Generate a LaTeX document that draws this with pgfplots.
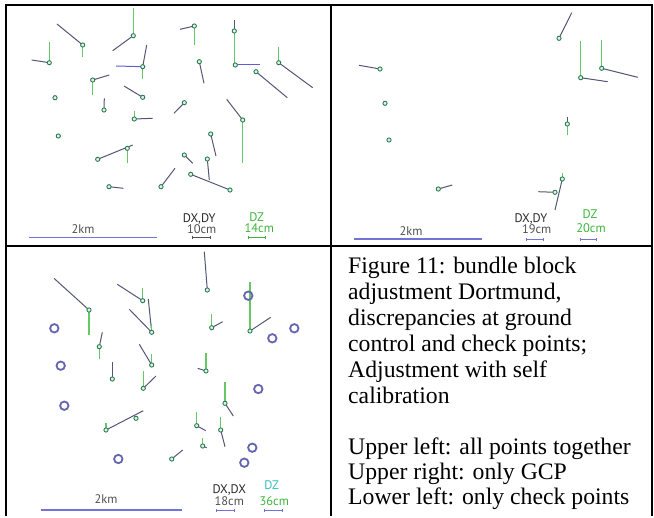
\documentclass[border=0pt]{standalone}
\usepackage{fontspec}
\setmainfont{Liberation Serif}
\newfontfamily\lab{PT Sans}
\usepackage{pgfplots}
\pgfplotsset{compat=1.18}
\definecolor{vec}{RGB}{85,85,120}
\definecolor{bvec}{RGB}{95,95,205}
\definecolor{gvec}{RGB}{100,200,100}
\definecolor{pt}{RGB}{45,125,85}
\definecolor{ptfill}{RGB}{225,242,230}
\definecolor{gcp}{RGB}{100,100,175}
\definecolor{sbar}{RGB}{115,115,215}
\definecolor{lbl}{RGB}{40,40,40}
\definecolor{lblg}{RGB}{80,80,80}
\definecolor{dzg}{RGB}{60,180,60}
\definecolor{dzc}{RGB}{50,190,190}
\begin{document}
\begin{tikzpicture}
\begin{axis}[
  scale only axis, width=654bp, height=516bp,
  xmin=0, xmax=654, ymin=0, ymax=516, y dir=reverse,
  hide axis, clip=false, enlargelimits=false]
\path (axis cs:0,0) rectangle (axis cs:654,516);
% ---------- Panel 1: all points ----------
\addplot[draw=vec, line width=1bp, quiver={u=\thisrow{u},v=\thisrow{v}}] table {
x y u v
82.7 45 -25.7 -21
133.3 35.7 -20.6 15
49.3 62.7 -17.6 -2.7
142.7 66.7 4 -21.7
92.7 80 16.6 -5
104 110 0.3 -11.7
142.7 97.3 -18.7 -11.3
134.3 119 18.4 -0.7
97.7 159.3 35 -14.3
109 186.7 14.3 1.6
194.3 26 -14.3 3.3
234.3 31 0 -11
199.3 61.7 4.7 21.6
278.7 62.7 34 25
256 71.7 31.3 26
184.3 102.7 -10.3 10.6
242.7 120 -16 -20.7
210.7 134 5.3 22
184.3 155 8.4 8.3
207.3 159 2 21
190.7 174.3 39.3 15.7
161 186.7 14 -18.4
};
\addplot[draw=bvec, line width=1bp, quiver={u=\thisrow{u},v=\thisrow{v}}] table {
x y u v
142.7 66.7 -26.7 -0.7
235.3 65 24.7 0
};
\addplot[draw=gvec, line width=1.1bp, quiver={u=\thisrow{u},v=\thisrow{v}}] table {
x y u v
82.7 45 0 11.7
133.3 35.7 0 -27.4
49.3 62.7 0 -21
142.7 66.7 0 12.6
92.7 80 0 15
134.3 119 0 -8
127.3 148.3 0 15
194.3 26 0 19
234.3 31 0 32
278.7 62.7 0 -16
242.7 120 0 42.7
};
\addplot[only marks, mark=*, mark size=2.1bp, mark options={draw=pt, fill=ptfill, line width=0.9bp}] table {
x y
82.7 45
133.3 35.7
49.3 62.7
142.7 66.7
92.7 80
55 97.7
104 110
142.7 97.3
134.3 119
58.3 136
97.7 159.3
127.3 148.3
109 186.7
194.3 26
234.3 31
235.3 65
199.3 61.7
278.7 62.7
256 71.7
184.3 102.7
242.7 120
210.7 134
184.3 155
207.3 159
190.7 174.3
230 190
161 186.7
};
% ---------- Panel 2: GCP only ----------
\addplot[draw=vec, line width=1bp, quiver={u=\thisrow{u},v=\thisrow{v}}] table {
x y u v
559 38.3 12.7 -25.6
380 69 -21 -3.7
580.7 77.7 27 4
601.7 68.3 36 9
567.3 124 0 -6.7
438.3 189 14 -4
562.3 179 -7.3 31
555 192.3 -16.7 -0.6
};
\addplot[draw=gvec, line width=1.1bp, quiver={u=\thisrow{u},v=\thisrow{v}}] table {
x y u v
580.7 77.7 0 -37
601.7 68.3 0 -28.3
567.3 124 0 11
562.3 179 0 -6.3
};
\addplot[only marks, mark=*, mark size=2.1bp, mark options={draw=pt, fill=ptfill, line width=0.9bp}] table {
x y
559 38.3
380 69
580.7 77.7
601.7 68.3
385 103.3
389 140
567.3 124
438.3 189
562.3 179
555 192.3
};
% ---------- Panel 3: check points only ----------
\addplot[draw=vec, line width=1bp, quiver={u=\thisrow{u},v=\thisrow{v}}] table {
x y u v
89 310 -35 -31.7
142.7 300.7 -25.4 -16.4
151.7 332.3 -22.4 -23
151.7 332.3 -3.4 -33.3
207.3 290 -3 -38.3
211.7 327.7 11 -6
250 331 20.7 -13.7
99.3 346.7 3 -14.4
151.7 365 -12.4 -20.7
112.3 379 0 -16.7
143.3 388.3 12.7 -12.3
206 371 -8.3 -2.7
225 403.3 8.3 12.7
106 430 37.3 -19.3
196.7 425.7 9 5
220.7 430 4.3 16.7
202.7 446 4 1.7
171.7 459 11 -9
};
\addplot[draw=gvec, line width=1.1bp, quiver={u=\thisrow{u},v=\thisrow{v}}] table {
x y u v
89 310 0 25
142.7 300.7 0 -12.4
151.7 332.3 0 -8
211.7 327.7 0 -13.7
250 331 0 -49.3
99.3 346.7 0 12.6
151.7 365 0 -10.7
143.3 388.3 0 -17.3
206 371 0 -17.7
225 403.3 0 -21.6
106 430 0 -7.3
196.7 425.7 0 -14
220.7 430 0 -13.3
202.7 446 0 -8.3
};
\addplot[only marks, mark=*, mark size=2.1bp, mark options={draw=pt, fill=ptfill, line width=0.9bp}] table {
x y
89 310
142.7 300.7
151.7 332.3
207.3 290
211.7 327.7
250 331
99.3 346.7
151.7 365
112.3 379
143.3 388.3
206 371
225 403.3
136 418.3
106 430
196.7 425.7
220.7 430
202.7 446
171.7 459
};
\addplot[only marks, mark=o, mark size=4.2bp, mark options={draw=gcp, line width=1.8bp}] table {
x y
54.3 328.3
60.7 365.7
64.3 405.7
118.3 459
248.3 295.7
294.3 328.3
272.3 338.3
258.3 389
252.3 447.7
244.3 462.7
};
% ---------- scale bars and legends ----------
\draw[sbar, line width=1.4bp] (axis cs:29.3,237.3) -- (axis cs:156.7,237.3);
\draw[sbar, line width=1.4bp] (axis cs:354.3,239) -- (axis cs:481.7,239);
\draw[sbar, line width=1.4bp] (axis cs:40.7,510) -- (axis cs:181.7,510);
\draw[lblg, line width=0.7bp] (axis cs:192.7,235.8) -- (axis cs:192.7,238.8) (axis cs:192.7,237.3) -- (axis cs:210,237.3) (axis cs:210,235.8) -- (axis cs:210,238.8);
\draw[dzg, line width=0.7bp] (axis cs:248.3,236.2) -- (axis cs:248.3,239.2) (axis cs:248.3,237.7) -- (axis cs:265,237.7) (axis cs:265,236.2) -- (axis cs:265,239.2);
\draw[sbar, line width=0.7bp] (axis cs:526,237.8) -- (axis cs:526,240.8) (axis cs:526,239.3) -- (axis cs:543.3,239.3) (axis cs:543.3,237.8) -- (axis cs:543.3,240.8);
\draw[sbar, line width=0.7bp] (axis cs:580,237.8) -- (axis cs:580,240.8) (axis cs:580,239.3) -- (axis cs:596.7,239.3) (axis cs:596.7,237.8) -- (axis cs:596.7,240.8);
\draw[sbar, line width=0.7bp] (axis cs:216,509.2) -- (axis cs:216,512.2) (axis cs:216,510.7) -- (axis cs:234.3,510.7) (axis cs:234.3,509.2) -- (axis cs:234.3,512.2);
\draw[sbar, line width=0.7bp] (axis cs:264.3,509.2) -- (axis cs:264.3,512.2) (axis cs:264.3,510.7) -- (axis cs:282.7,510.7) (axis cs:282.7,509.2) -- (axis cs:282.7,512.2);
\node[lblg, inner sep=0pt, anchor=base, font=\lab\fontsize{12.5}{12.5}\selectfont] at (axis cs:83,233) {2km};
\node[lbl, inner sep=0pt, anchor=base, font=\lab\fontsize{12.5}{12.5}\selectfont] at (axis cs:199.3,222.3) {DX,DY};
\node[lblg, inner sep=0pt, anchor=base, font=\lab\fontsize{12.5}{12.5}\selectfont] at (axis cs:201.7,233.2) {10cm};
\node[dzg, inner sep=0pt, anchor=base, font=\lab\fontsize{12.5}{12.5}\selectfont] at (axis cs:256.7,221.5) {DZ};
\node[dzg, inner sep=0pt, anchor=base, font=\lab\fontsize{12.5}{12.5}\selectfont] at (axis cs:259.3,232.8) {14cm};
\node[lblg, inner sep=0pt, anchor=base, font=\lab\fontsize{12.5}{12.5}\selectfont] at (axis cs:411,235) {2km};
\node[lbl, inner sep=0pt, anchor=base, font=\lab\fontsize{12.5}{12.5}\selectfont] at (axis cs:531,222.3) {DX,DY};
\node[lblg, inner sep=0pt, anchor=base, font=\lab\fontsize{12.5}{12.5}\selectfont] at (axis cs:536.7,233.2) {19cm};
\node[dzg, inner sep=0pt, anchor=base, font=\lab\fontsize{12.5}{12.5}\selectfont] at (axis cs:590,218.2) {DZ};
\node[dzg, inner sep=0pt, anchor=base, font=\lab\fontsize{12.5}{12.5}\selectfont] at (axis cs:591,232.8) {20cm};
\node[lblg, inner sep=0pt, anchor=base, font=\lab\fontsize{12.5}{12.5}\selectfont] at (axis cs:106,503) {2km};
\node[lbl, inner sep=0pt, anchor=base, font=\lab\fontsize{12.5}{12.5}\selectfont] at (axis cs:229.3,493.5) {DX,DX};
\node[lblg, inner sep=0pt, anchor=base, font=\lab\fontsize{12.5}{12.5}\selectfont] at (axis cs:229.3,505.5) {18cm};
\node[dzc, inner sep=0pt, anchor=base, font=\lab\fontsize{12.5}{12.5}\selectfont] at (axis cs:271.7,489) {DZ};
\node[dzg, inner sep=0pt, anchor=base, font=\lab\fontsize{12.5}{12.5}\selectfont] at (axis cs:274.3,505.5) {36cm};
% ---------- table frame ----------
\draw[black, line width=2.4bp] (axis cs:6,516) -- (axis cs:6,5) -- (axis cs:652,5) -- (axis cs:652,516);
\draw[black, line width=2.4bp] (axis cs:331,5) -- (axis cs:331,516);
\draw[black, line width=2.4bp] (axis cs:6,246) -- (axis cs:652,246);
% ---------- caption ----------
\node[inner sep=0pt, anchor=base west, font=\fontsize{23.8}{26}\selectfont] at (axis cs:348,273) {Figure 11: bundle block};
\node[inner sep=0pt, anchor=base west, font=\fontsize{23.8}{26}\selectfont] at (axis cs:348,299) {adjustment Dortmund,};
\node[inner sep=0pt, anchor=base west, font=\fontsize{23.8}{26}\selectfont] at (axis cs:348,325) {discrepancies at ground};
\node[inner sep=0pt, anchor=base west, font=\fontsize{23.8}{26}\selectfont] at (axis cs:348,351) {control and check points;};
\node[inner sep=0pt, anchor=base west, font=\fontsize{23.8}{26}\selectfont] at (axis cs:348,377) {Adjustment with self};
\node[inner sep=0pt, anchor=base west, font=\fontsize{23.8}{26}\selectfont] at (axis cs:348,403) {calibration};
\node[inner sep=0pt, anchor=base west, font=\fontsize{23.8}{26}\selectfont] at (axis cs:348,454) {Upper left: all points together};
\node[inner sep=0pt, anchor=base west, font=\fontsize{23.8}{26}\selectfont] at (axis cs:348,479) {Upper right: only GCP};
\node[inner sep=0pt, anchor=base west, font=\fontsize{23.8}{26}\selectfont] at (axis cs:348,504) {Lower left: only check points};
\end{axis}
\end{tikzpicture}
\end{document}
